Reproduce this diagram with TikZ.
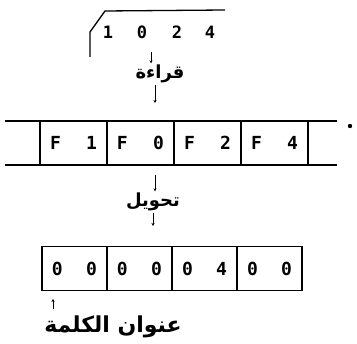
\documentclass[tikz,border=0pt]{standalone}
\usepackage{fontspec}
\setmonofont{DejaVu Sans Mono}
\newfontfamily\arabicfont[Script=Arabic]{DejaVu Sans}
\TeXXeTstate=1
\usetikzlibrary{positioning}
\usetikzlibrary{arrows.meta}

\begin{document}
\begin{tikzpicture}[x=1pt,y=-1pt,line width=1.3pt,
    fcell/.style={draw,outer sep=0pt,minimum height=44pt,minimum width=67pt,
        text width=47pt,font=\ttfamily\bfseries\fontsize{18}{20}\selectfont},
    ocell/.style={fcell,minimum width=65pt,text width=45pt},
    word/.style={inner sep=1pt,font=\arabicfont\bfseries\fontsize{18}{22}\selectfont},
    arr/.style={-{Stealth[length=3pt,width=3pt]},line width=0.8pt}
]
\useasboundingbox (0,0) rectangle (357,344);
% the number that is read
\draw (90,57) -- (90,32) -- (105,11) -- (225,10);
\foreach \d/\x in {1/108,0/142,2/177,4/210}
    \node[font=\ttfamily\bfseries\fontsize{17}{19}\selectfont] (n\x) at (\x,32) {\d};
\node[word] (read) at (160,74) {\beginR قراءة\endR};
\coordinate (readin) at (151,52);
\coordinate (readout) at (155,103);
\draw[arr] (readin) -- (readin |- read.north);
\draw[arr] (readout |- read.south) -- (readout);
% codes F1 F0 F2 F4
\node[fcell] (f1) at (73.5,143) {F\hfill 1};
\node[fcell,right=0pt of f1] (f0) {F\hfill 0};
\node[fcell,right=0pt of f0] (f2) {F\hfill 2};
\node[fcell,right=0pt of f2] (f4) {F\hfill 4};
\coordinate (stripl) at (5,0);
\coordinate (stripr) at (337,0);
\draw (stripl |- f1.north) -- (f1.north west) (f4.north east) -- (stripr |- f4.north);
\draw (stripl |- f1.south) -- (f1.south west) (f4.south east) -- (stripr |- f4.south);
\fill (350,126) circle (2.2pt);
\node[word] (conv) at (153,202) {\beginR تحويل\endR};
\coordinate (convin) at (155,175);
\coordinate (convout) at (153,226);
\draw[arr] (convin) -- (convin |- conv.north);
\draw[arr] (convout |- conv.south) -- (convout);
% word address
\node[ocell] (o1) at (74.5,268.5) {0\hfill 0};
\node[ocell,right=0pt of o1] (o2) {0\hfill 0};
\node[ocell,right=0pt of o2] (o3) {0\hfill 4};
\node[ocell,right=0pt of o3] (o4) {0\hfill 0};
\node[word,font=\arabicfont\bfseries\fontsize{22}{26}\selectfont] (addr) at (113,327) {\beginR عنوان الكلمة\endR};
\coordinate (addrtip) at (53,299);
\coordinate (addrtail) at (53,309);
\draw[arr] (addrtail) -- (addrtip);
\end{tikzpicture}
\end{document}
